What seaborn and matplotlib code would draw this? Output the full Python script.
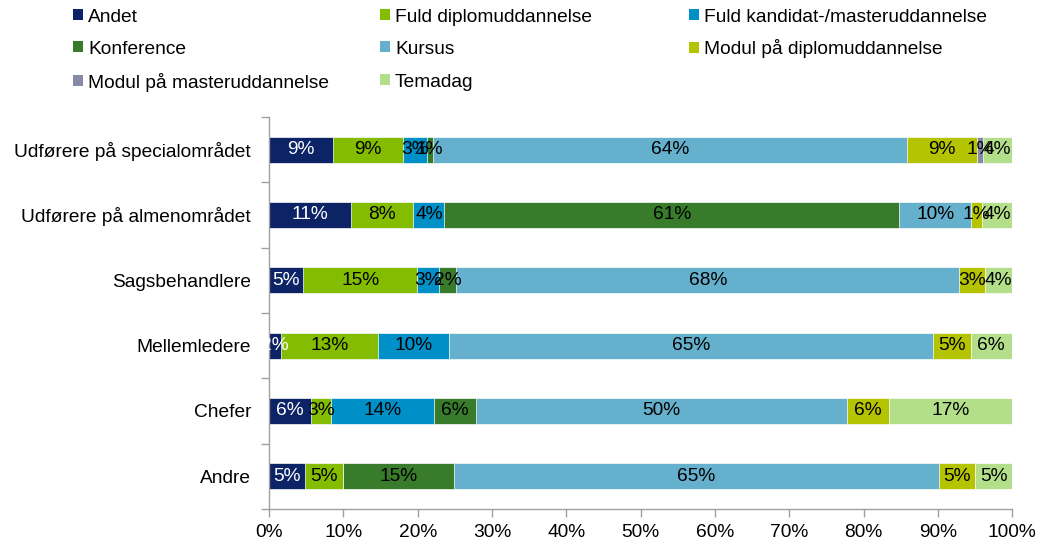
import numpy as np
import pandas as pd
import seaborn as sns
import matplotlib.pyplot as plt
from matplotlib.patches import Patch

# data (percent)
groups = ['Udførere på specialområdet', 'Udførere på almenområdet', 'Sagsbehandlere',
          'Mellemledere', 'Chefer', 'Andre']
series = ['Andet', 'Fuld diplomuddannelse', 'Fuld kandidat-/masteruddannelse', 'Konference',
          'Kursus', 'Modul på diplomuddannelse', 'Modul på masteruddannelse', 'Temadag']

andet = [8.6, 11.0, 4.6, 1.6, 5.6, 4.9]
fuld_diplom = [9.4, 8.4, 15.3, 13.0, 2.7, 5.0]
fuld_master = [3.2, 4.2, 3.0, 9.6, 13.9, 0.0]
konference = [0.8, 61.2, 2.3, 0.0, 5.6, 15.0]
kursus = [63.9, 9.7, 67.7, 65.2, 50.0, 65.2]
modul_diplom = [9.4, 1.4, 3.4, 5.0, 5.6, 4.9]
modul_master = [0.8, 0.0, 0.0, 0.0, 0.0, 0.0]
temadag = [3.9, 4.1, 3.7, 5.6, 16.6, 5.0]

colors = ['#0c2366', '#84bd00', '#0090c8', '#377b2b', '#65b0cd', '#b5c400', '#8689a8', '#b3df8a']
text_colors = ['white'] + ['black'] * 7

df = pd.DataFrame(dict(zip(series, [andet, fuld_diplom, fuld_master, konference, kursus,
                                    modul_diplom, modul_master, temadag])), index=groups)
cum = df.cumsum(axis=1)

sns.set_style('white')
plt.rcParams['font.family'] = ['Liberation Sans', 'DejaVu Sans']
plt.rcParams['text.color'] = 'black'
FS = 13.8

fig = plt.figure(figsize=(10.51, 5.43), dpi=100)
ax = fig.add_axes([0.256, 0.0626, 0.707, 0.722])

# stacked bars: draw cumulative totals from the last series back to the first
for i in range(len(series) - 1, -1, -1):
    sns.barplot(x=cum[series[i]].values, y=groups, orient='h', color=colors[i],
                saturation=1, width=0.4, edgecolor='white', linewidth=0.5, ax=ax)

# labels in the middle of each segment
for r, g in enumerate(groups):
    left = 0
    for i, s in enumerate(series):
        v = df.loc[g, s]
        if v > 0:
            ax.text(left + v / 2, r, f'{round(v)}%', ha='center', va='center',
                    fontsize=FS, color=text_colors[i])
        left += v

ax.set_xlim(0, 100)
ax.set_ylim(len(groups) - 0.5, -0.5)
ax.set_xticks(np.arange(0, 101, 10))
ax.set_xticklabels([f'{t}%' for t in range(0, 101, 10)], fontsize=FS, color='black')
ax.set_yticks(range(len(groups)))
ax.set_yticklabels(groups, fontsize=FS, color='black')
ax.set_yticks(np.arange(-0.5, len(groups), 1), minor=True)
ax.tick_params(axis='y', which='major', length=0, pad=13)
ax.tick_params(axis='y', which='minor', length=6, width=1, color='#a0a0a0', direction='out', left=True)
ax.tick_params(axis='x', length=6, width=1, color='#a0a0a0', direction='out', bottom=True, pad=5)
ax.set_xlabel('')
ax.set_ylabel('')
for sp in ['top', 'right']:
    ax.spines[sp].set_visible(False)
for sp in ['left', 'bottom']:
    ax.spines[sp].set_color('#a0a0a0')
    ax.spines[sp].set_linewidth(1)

# legend: grid of three columns, filled row by row, one entry per slot
col_x = [73, 380, 689]
row_y = [17, 49, 82]
for k, s in enumerate(series):
    r, c = divmod(k, 3)
    fig.legend([Patch(facecolor=colors[k], edgecolor='none')], [s],
               loc='center left', bbox_to_anchor=(col_x[c] / 1051, 1 - row_y[r] / 543),
               frameon=False, fontsize=FS, borderpad=0, borderaxespad=0,
               handlelength=0.52, handleheight=0.52, handletextpad=0.26)

fig.savefig('out.png', dpi=100)
